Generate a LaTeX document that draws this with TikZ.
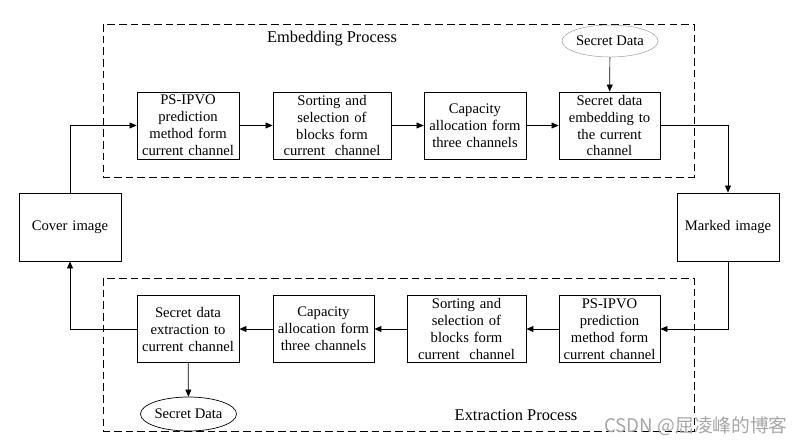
\documentclass[tikz,border=0pt]{standalone}
\usepackage{fontspec}
\setmainfont{Liberation Serif}
\newfontfamily\cjkfont{Noto Sans CJK SC}
\usepackage{tikz}
\usetikzlibrary{positioning, shapes.geometric, arrows.meta}

\begin{document}
\begin{tikzpicture}[x=0.03cm, y=-0.03cm,
    blk/.style={draw, line width=0.6pt, align=center, minimum height=2.01cm, inner sep=1pt, font=\fontsize{12.5}{14.5}\selectfont},
    oval/.style={ellipse, draw, line width=0.6pt, inner sep=0pt, font=\fontsize{12.5}{14.5}\selectfont},
    frame/.style={draw, line width=0.6pt, dash pattern=on 6.5pt off 3.5pt},
    >={Triangle[length=6pt, width=5pt]}]
    \useasboundingbox (0,0) rectangle (806,444);

    % Embedding process
    \draw[frame] (103,24) rectangle (694,177);
    \node[font=\fontsize{14}{16}\selectfont] (embtitle) at (332,39) {Embedding Process};
    \node[oval, draw=black!40, line width=0.4pt, minimum width=2.76cm, minimum height=0.96cm] (sdin) at (610,41) {Secret Data};
    \node[blk, minimum width=3.06cm, text width=2.95cm] (e1) at (188,125.5) {PS-IPVO\\prediction\\method form\\current channel};
    \node[blk, minimum width=3.54cm, text width=3.4cm] (e2) at (332,125.5) {Sorting and\\selection of\\blocks form\\current~~channel};
    \node[blk, minimum width=3.06cm, text width=2.95cm] (e3) at (475,125.5) {Capacity\\allocation form\\three channels};
    \node[blk, minimum width=3.03cm, text width=2.9cm] (e4) at (609.5,125.5) {Secret data\\embedding to\\the current\\channel};

    % Images
    \node[blk, minimum width=3.06cm, text width=2.95cm, minimum height=2.04cm] (cover) at (70,227) {Cover image};
    \node[blk, minimum width=3.06cm, text width=2.95cm, minimum height=2.04cm] (marked) at (728,227) {Marked image};

    % Extraction process
    \draw[frame] (103,278) rectangle (694,431);
    \node[font=\fontsize{14}{16}\selectfont] (exttitle) at (516,415) {Extraction Process};
    \node[blk, minimum width=3.03cm, text width=2.9cm] (x4) at (609.5,329) {PS-IPVO\\prediction\\method form\\current channel};
    \node[blk, minimum width=3.57cm, text width=3.4cm] (x3) at (466.5,329) {Sorting and\\selection of\\blocks form\\current~~channel};
    \node[blk, minimum width=3.03cm, text width=2.9cm] (x2) at (323.5,329) {Capacity\\allocation form\\three channels};
    \node[blk, minimum width=3.06cm, text width=2.95cm] (x1) at (188,329) {Secret data\\extraction to\\current channel};
    \node[oval, minimum width=2.79cm, minimum height=1.02cm] (sdout) at (188.5,414) {Secret Data};

    % Watermark
    \node[font=\cjkfont\fontsize{16}{18}\selectfont, text=black!35, inner sep=0pt] (wm) at (696,426) {CSDN @屈凌峰的博客};

    % Connect embedding chain
    \draw[->, line width=0.6pt] (cover) |- (e1);
    \foreach \i/\j in {e1/e2, e2/e3, e3/e4}
        \draw[->, line width=0.6pt] (\i) -- (\j);
    \draw[->, line width=0.6pt] (sdin) -- (e4);
    \draw[->, line width=0.6pt] (e4) -| (marked);

    % Connect extraction chain
    \draw[->, line width=0.6pt] (marked) |- (x4);
    \foreach \i/\j in {x4/x3, x3/x2, x2/x1}
        \draw[->, line width=0.6pt] (\i) -- (\j);
    \draw[->, line width=0.6pt] (x1) -| (cover);
    \draw[->, line width=0.6pt] (x1) -- (sdout);
\end{tikzpicture}
\end{document}
